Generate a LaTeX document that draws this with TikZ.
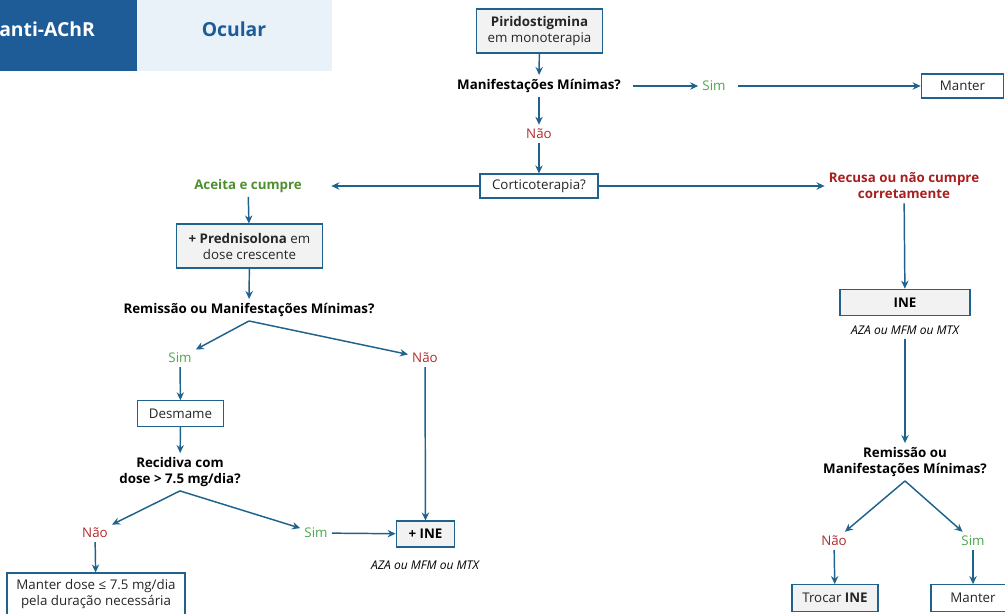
\documentclass[tikz,border=0pt]{standalone}
\usepackage{fontspec}
\setmainfont{Open Sans}
\usetikzlibrary{arrows.meta}

\definecolor{arrowblue}{HTML}{1F638C}
\definecolor{headblue}{HTML}{1E5C97}
\definecolor{headlight}{HTML}{E9F1F9}
\definecolor{boxgray}{HTML}{F2F2F2}
\definecolor{textdark}{HTML}{262626}
\definecolor{simgreen}{HTML}{4CA64C}
\definecolor{okgreen}{HTML}{4E8F2E}
\definecolor{naored}{HTML}{B22B2B}
\definecolor{refred}{HTML}{A81E1E}

\begin{document}
\begin{tikzpicture}[x=0.75pt, y=-0.75pt, font=\color{textdark}]
    % Define styles
    \tikzset{
      graybox/.style={draw=arrowblue, line width=0.8pt, fill=boxgray, align=center, inner sep=0pt},
      whitebox/.style={graybox, fill=white},
      quest/.style={font=\bfseries, align=center, inner sep=3pt},
      yes/.style={text=simgreen, inner sep=3pt},
      no/.style={text=naored, inner sep=3pt},
      note/.style={font=\small\itshape, inner sep=3pt},
      arr/.style={draw=arrowblue, line width=1.1pt, -{Stealth[length=6pt, width=5.5pt]}}
    }
    \useasboundingbox (0,0) rectangle (1005,613);

    % Header
    \fill[headblue] (0,0) rectangle (137,71);
    \fill[headlight] (137,0) rectangle (332,71);
    \node[anchor=west, text=white, font=\fontsize{14.5}{17}\selectfont\bfseries, inner sep=0pt] (grupo) at (-1,29) {anti-AChR};
    \node[text=headblue, font=\fontsize{14.5}{17}\selectfont\bfseries, inner sep=0pt] (ocular) at (234,29) {Ocular};

    % Top: piridostigmina
    \node[graybox, minimum width=95pt, minimum height=33pt] (piri) at (539.5,31) {\textbf{Piridostigmina}\\em monoterapia};
    \node[quest] (q1) at (539,86) {Manifestações Mínimas?};
    \node[yes] (sim1) at (714,86) {Sim};
    \node[whitebox, minimum width=62pt, minimum height=18pt] (manter1) at (962.5,86) {Manter};
    \node[no] (nao1) at (539,134) {Não};
    \node[whitebox, minimum width=88.5pt, minimum height=18pt] (corti) at (539,186) {Corticoterapia?};

    \draw[arr] (piri) -- (q1);
    \draw[arr, shorten <=6pt] (q1) -- (sim1);
    \draw[arr, shorten <=6pt] (sim1) -- (manter1);
    \draw[arr] (q1) -- (nao1);
    \draw[arr] (nao1) -- (corti);

    % Left: corticoterapia aceite
    \node[quest, text=okgreen] (aceita) at (248,186) {Aceita e cumpre};
    \node[quest, text=refred] (recusa) at (904,186) {Recusa ou não cumpre\\corretamente};
    \draw[arr, shorten >=19pt] (corti) -- (aceita);
    \draw[arr] (corti) -- (recusa);

    \node[graybox, minimum width=109pt, minimum height=33pt] (pred) at (249.5,246) {\textbf{+ Prednisolona} em\\dose crescente};
    \node[quest] (q2) at (249,310) {Remissão ou Manifestações Mínimas?};
    \node[yes] (sim2) at (180,358) {Sim};
    \node[no] (nao2) at (425,358) {Não};
    \node[whitebox, minimum width=65pt, minimum height=19pt] (desmame) at (180.5,413.5) {Desmame};
    \node[quest] (q3) at (180,472) {Recidiva com\\dose > 7.5 mg/dia?};
    \node[no] (nao3) at (95,533) {Não};
    \node[yes] (sim3) at (316,533) {Sim};
    \node[whitebox, minimum width=133.5pt, minimum height=31.5pt] (manterdose) at (96,594) {Manter dose ≤ 7.5 mg/dia\\pela duração necessária};
    \node[graybox, font=\bfseries, minimum width=44pt, minimum height=19.5pt] (ine1) at (425.5,534) {+ INE};
    \node[note] (aza1) at (425,565) {AZA ou MFM ou MTX};

    \draw[arr] (aceita) -- (pred);
    \draw[arr] (pred) -- (q2);
    \draw[arr] (q2.south) -- (sim2);
    \draw[arr] (q2.south) -- (nao2);
    \draw[arr] (sim2) -- (desmame);
    \draw[arr] (desmame) -- (q3);
    \draw[arr] (q3.south) -- (nao3);
    \draw[arr] (q3.south) -- (sim3);
    \draw[arr] (nao3) -- (manterdose);
    \draw[arr] (sim3) -- (ine1);
    \draw[arr] (nao2) -- (ine1);

    % Right: recusa
    \node[graybox, font=\bfseries, minimum width=97.5pt, minimum height=20pt] (ine2) at (905,302.5) {INE};
    \node[note] (aza2) at (905,330) {AZA ou MFM ou MTX};
    \node[quest] (q4) at (905,462) {Remissão ou\\Manifestações Mínimas?};
    \node[no] (nao4) at (834,541) {Não};
    \node[yes] (sim4) at (973,541) {Sim};
    \node[graybox, minimum width=64.5pt, minimum height=20pt] (trocar) at (835,598) {Trocar \textbf{INE}};
    \node[whitebox, minimum width=63pt, minimum height=20pt] (manter2) at (973,598) {Manter};

    \draw[arr] (recusa) -- (ine2);
    \draw[arr] (aza2) -- (q4);
    \draw[arr] (q4.south) -- (nao4);
    \draw[arr] (q4.south) -- (sim4);
    \draw[arr] (nao4) -- (trocar);
    \draw[arr] (sim4) -- (manter2);
\end{tikzpicture}
\end{document}
